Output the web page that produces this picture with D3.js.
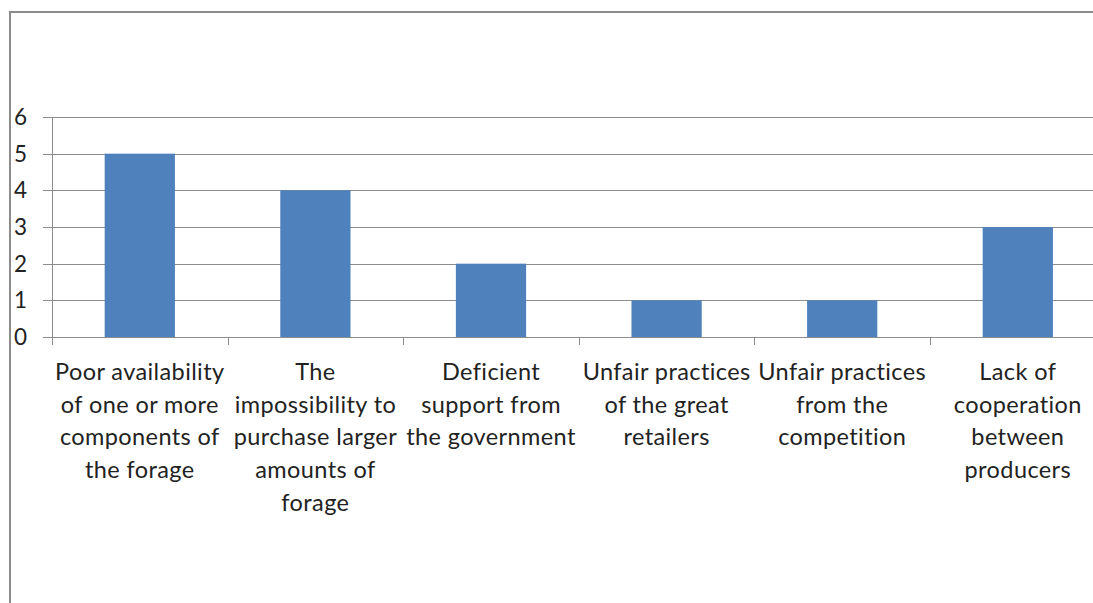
<!DOCTYPE html>
<html lang="en">
<head>
<meta charset="UTF-8">
<title>Problems</title>
<script src="https://cdn.jsdelivr.net/npm/d3@7"></script>
<style>
    body { margin: 0; background: #fff; }
    text { font-family: Lato, "Open Sans", sans-serif; fill: #222; }
</style>
</head>
<body>
<div id="chart"></div>
<script>
    // data
    var categories = [
        ["Poor availability", "of one or more", "components of", "the forage"],
        ["The", "impossibility to", "purchase larger", "amounts of", "forage"],
        ["Deficient", "support from", "the government"],
        ["Unfair practices", "of the great", "retailers"],
        ["Unfair practices", "from the", "competition"],
        ["Lack of", "cooperation", "between", "producers"]
    ];
    var values = [5, 4, 2, 1, 1, 3];
    var yTicks = [0, 1, 2, 3, 4, 5, 6];

    var width = 1093, height = 603;
    var plotLeft = 52, plotTop = 117, plotBottom = 337;
    var bandW = 175.6;

    var svg = d3.select("#chart").append("svg")
        .attr("width", width)
        .attr("height", height);

    // outer frame
    svg.append("rect")
        .attr("x", 10).attr("y", 12)
        .attr("width", 1200).attr("height", 700)
        .attr("fill", "none")
        .attr("stroke", "#8c8c8c")
        .attr("stroke-width", 2);

    var x = d3.scaleBand()
        .domain(d3.range(categories.length))
        .range([plotLeft, plotLeft + bandW * categories.length])
        .paddingInner(0.6).paddingOuter(0.3);

    var y = d3.scaleLinear().domain([0, 6]).range([plotBottom, plotTop]);

    // gridlines
    svg.append("g").selectAll("line")
        .data(yTicks)
        .enter().append("line")
        .attr("x1", plotLeft - 9)
        .attr("x2", width)
        .attr("y1", function (d) { return Math.round(y(d)) + 0.5; })
        .attr("y2", function (d) { return Math.round(y(d)) + 0.5; })
        .attr("stroke", "#8c8c8c")
        .attr("stroke-width", 1);

    // y axis line
    svg.append("line")
        .attr("x1", plotLeft + 0.5).attr("x2", plotLeft + 0.5)
        .attr("y1", plotTop).attr("y2", plotBottom)
        .attr("stroke", "#8c8c8c");

    svg.append("g").selectAll("text")
        .data(yTicks)
        .enter().append("text")
        .attr("x", 14)
        .attr("y", function (d) { return y(d); })
        .attr("dy", "0.36em")
        .attr("font-size", 22.5)
        .text(function (d) { return d; });

    // category ticks
    svg.append("g").selectAll("line")
        .data(d3.range(categories.length + 1))
        .enter().append("line")
        .attr("x1", function (d) { return Math.round(plotLeft + d * bandW) + 0.5; })
        .attr("x2", function (d) { return Math.round(plotLeft + d * bandW) + 0.5; })
        .attr("y1", plotBottom).attr("y2", plotBottom + 8)
        .attr("stroke", "#8c8c8c");

    // bars
    svg.append("g").selectAll("rect")
        .data(values)
        .enter().append("rect")
        .attr("x", function (d, i) { return x(i); })
        .attr("width", x.bandwidth())
        .attr("y", function (d) { return y(d); })
        .attr("height", function (d) { return y(0) - y(d); })
        .attr("fill", "#4f81bd");

    // category labels
    svg.append("g").selectAll("text")
        .data(categories)
        .enter().append("text")
        .attr("text-anchor", "middle")
        .attr("font-size", 23.5)
        .attr("letter-spacing", 0.4)
        .attr("transform", function (d, i) {
            return "translate(" + (plotLeft + (i + 0.5) * bandW) + ",380)";
        })
        .selectAll("tspan")
        .data(function (d) { return d; })
        .enter().append("tspan")
        .attr("x", 0)
        .attr("y", function (d, j) { return j * 32.7; })
        .text(function (d) { return d; });
</script>
</body>
</html>
